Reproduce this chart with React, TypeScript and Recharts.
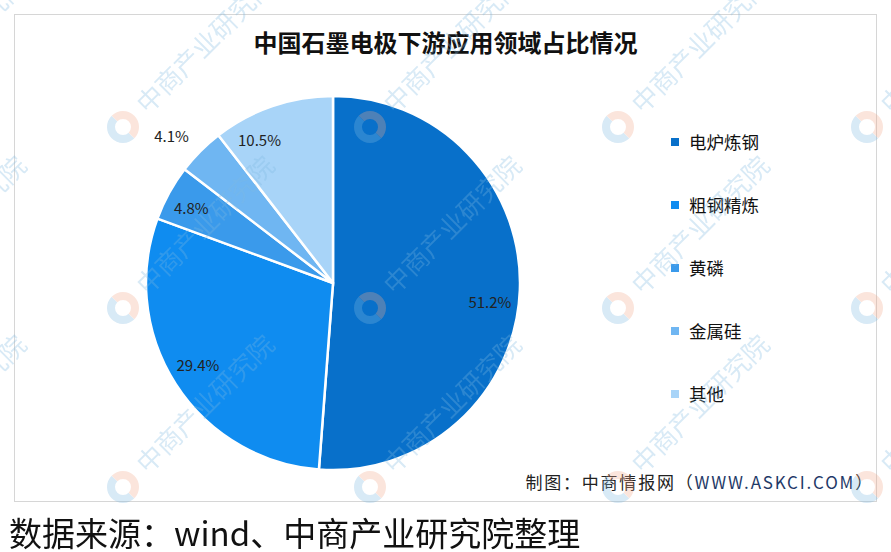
import React from "react";
import { Cell, Legend, Pie, PieChart } from "recharts";

const categories = ["电炉炼钢", "粗钢精炼", "黄磷", "金属硅", "其他"];
const shares = [51.2, 29.4, 4.8, 4.1, 10.5];

const colors = ["#0870CA", "#0F8CF0", "#3A9AEB", "#6FB6F2", "#A8D4F8"];
// label placement per slice: radius factor and angle nudge (deg), mimicking the Excel layout
const labelPlacement = [
  { r: 0.845, a: -4.7 },
  { r: 0.845, a: -1.5 },
  { r: 0.86, a: 0.6 },
  { r: 1.17, a: 2.4 },
  { r: 0.86, a: 8.3 }
];

const data = categories.map((name, i) => ({ name, value: shares[i] }));

const font = '"Noto Sans CJK SC", "Noto Sans", sans-serif';
const RAD = Math.PI / 180;

function SliceLabel(props: any) {
  const { cx, cy, midAngle, outerRadius, index, value } = props;
  const p = labelPlacement[index];
  const ang = (midAngle + p.a) * RAD;
  const r = outerRadius * p.r;
  const x = cx + r * Math.cos(ang);
  const y = cy - r * Math.sin(ang);
  return (
    <text x={x} y={y} textAnchor="middle" dominantBaseline="central" fontSize={15} fill="#222" fontFamily={font}>
      {`${value.toFixed(1)}%`}
    </text>
  );
}

function LegendList() {
  return (
    <div style={{ fontFamily: font }}>
      {data.map((d, i) => (
        <div key={d.name} style={{ height: 63, display: "flex", alignItems: "center" }}>
          <span style={{ width: 8, height: 8, background: colors[i], marginRight: 10, display: "inline-block" }} />
          <span style={{ fontSize: 17.5, color: "#111" }}>{d.name}</span>
        </div>
      ))}
    </div>
  );
}

const markCols = [-125, 123, 370, 618, 867];
const markRows = [127, 308, 487];

function Watermarks() {
  return (
    <svg width={891} height={552} style={{ position: "absolute", left: 0, top: 0, pointerEvents: "none" }}>
      {markRows.map((y) =>
        markCols.map((x) => (
          <g key={`${x}-${y}`} transform={`translate(${x},${y}) rotate(-45)`} opacity={0.3}>
            <path d="M0,-12 A12,12 0 0,0 0,12" stroke="#7fb8e0" strokeWidth={8} fill="none" />
            <path d="M0,-12 A12,12 0 0,1 0,12" stroke="#f2a98c" strokeWidth={8} fill="none" />
            <text x={26} y={9} fontSize={26} fill="#7fb8e0" fontFamily={font}>
              中商产业研究院
            </text>
          </g>
        ))
      )}
    </svg>
  );
}

export default function App() {
  return (
    <div style={{ position: "fixed", left: 0, top: 0, width: 891, height: 552, background: "#fff", fontFamily: font }}>
      <div
        style={{
          position: "absolute",
          left: 14,
          top: 14,
          width: 863,
          height: 488,
          boxSizing: "border-box",
          border: "1.5px solid #d6d6d6"
        }}
      >
        <div
          style={{
            position: "absolute",
            left: 0,
            width: "100%",
            top: 12,
            textAlign: "center",
            fontSize: 24,
            fontWeight: 700,
            color: "#111",
            lineHeight: "30px"
          }}
        >
          中国石墨电极下游应用领域占比情况
        </div>
        <div style={{ position: "absolute", left: 0, top: 0 }}>
          <PieChart width={860} height={485} margin={{ top: 0, right: 0, bottom: 0, left: 0 }}>
            <Pie
              data={data}
              dataKey="value"
              nameKey="name"
              cx={318}
              cy={268}
              outerRadius={187}
              startAngle={90}
              endAngle={-270}
              stroke="#fff"
              strokeWidth={2.5}
              label={SliceLabel}
              labelLine={false}
              isAnimationActive={false}
            >
              {data.map((d, i) => (
                <Cell key={d.name} fill={colors[i]} />
              ))}
            </Pie>
            <Legend
              layout="vertical"
              content={() => <LegendList />}
              wrapperStyle={{ position: "absolute", left: 656, top: 95, width: 160 }}
            />
          </PieChart>
        </div>
        <div
          style={{
            position: "absolute",
            right: 2,
            top: 455,
            fontSize: 17,
            letterSpacing: 1.8,
            color: "#222",
            lineHeight: "24px",
            whiteSpace: "nowrap"
          }}
        >
          制图：中商情报网（<span style={{ color: "#1f3a68" }}>WWW.ASKCI.COM</span>）
        </div>
      </div>
      <div
        style={{
          position: "absolute",
          left: 9,
          top: 511,
          fontSize: 33,
          lineHeight: "42px",
          color: "#111",
          whiteSpace: "nowrap"
        }}
      >
        数据来源：wind、中商产业研究院整理
      </div>
      <Watermarks />
    </div>
  );
}
